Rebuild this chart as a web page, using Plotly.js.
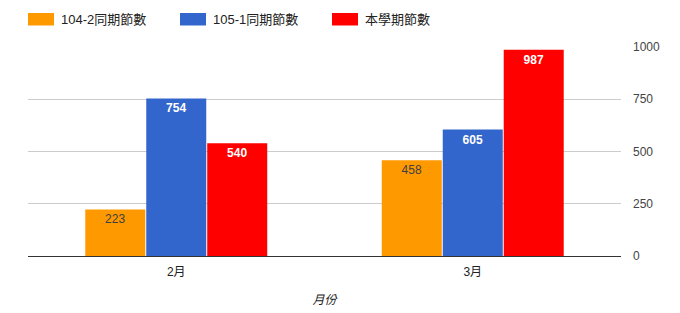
<!DOCTYPE html>
<html>
<head>
<meta charset="utf-8">
<script src="https://cdn.plot.ly/plotly-3.0.1.min.js"></script>
<style>html,body{margin:0;padding:0;background:#fff;}#chart{width:680px;height:313px;}</style>
</head>
<body>
<div id="chart"></div>
<script>
var categories = ['2月', '3月'];
var seriesNames = ['104-2同期節數', '105-1同期節數', '本學期節數'];
var values1042 = [223, 458];
var values1051 = [754, 605];
var valuesNow = [540, 987];
var yTicks = [0, 250, 500, 750, 1000];
var xAxisTitle = '月份';

var FONT = '"Liberation Sans", Arial, "Noto Sans CJK TC", sans-serif';
var colors = ['#ff9900', '#3366cc', '#ff0000'];
var seriesValues = [values1042, values1051, valuesNow];
var textColors = ['#404040', '#ffffff', '#ffffff'];
var textWeights = ['normal', 'bold', 'bold'];

var traces = seriesValues.map(function (vals, i) {
  return {
    type: 'bar',
    name: seriesNames[i],
    x: categories,
    y: vals,
    marker: {color: colors[i]},
    text: vals.map(String),
    textposition: 'inside',
    insidetextanchor: 'end',
    constraintext: 'none',
    textangle: 0,
    textfont: {family: FONT, size: 12, color: textColors[i], weight: textWeights[i]},
    hoverinfo: 'none',
    showlegend: false
  };
});

// Plot-area geometry (pixels)
var W = 680, H = 313, L = 28, R = 59, T = 47, B = 57;
var pw = W - L - R, ph = H - T - B;
function px(x) { return (x - L) / pw; }
function py(y) { return (H - B - y) / ph; }

var shapes = [], annotations = [];
var legendX = [28, 180, 332];
seriesNames.forEach(function (n, i) {
  var x0 = legendX[i];
  shapes.push({type: 'rect', xref: 'paper', yref: 'paper',
    x0: px(x0), x1: px(x0 + 26), y0: py(25.5), y1: py(13),
    fillcolor: colors[i], line: {width: 0}});
  annotations.push({xref: 'paper', yref: 'paper', x: px(x0 + 31), y: py(19.5),
    xanchor: 'left', yanchor: 'middle', showarrow: false, text: n,
    font: {family: FONT, size: 13, color: '#222222'}});
});

var layout = {
  width: W, height: H,
  margin: {l: L, r: R, t: T, b: B, pad: 0},
  paper_bgcolor: '#ffffff', plot_bgcolor: '#ffffff',
  font: {family: FONT, size: 12, color: '#222222'},
  barmode: 'group',
  bargap: 0.383,
  bargroupgap: 0.016,
  showlegend: false,
  xaxis: {
    type: 'category',
    showgrid: false,
    showline: true, linecolor: '#333333', linewidth: 1,
    ticks: '', zeroline: false,
    ticklabelstandoff: 5,
    tickfont: {family: FONT, size: 12, color: '#222222'},
    title: {text: xAxisTitle, standoff: 17, font: {family: FONT, size: 12, color: '#222222', style: 'italic'}}
  },
  yaxis: {
    side: 'right',
    range: [0, 1000],
    tickvals: yTicks,
    ticktext: yTicks.map(String),
    showgrid: true, gridcolor: '#cccccc', gridwidth: 1,
    zeroline: false, showline: false, ticks: '',
    ticklabelstandoff: 11,
    tickfont: {family: FONT, size: 12, color: '#444444'},
    fixedrange: true
  },
  shapes: shapes,
  annotations: annotations
};

Plotly.newPlot('chart', traces, layout, {staticPlot: true, displayModeBar: false});
</script>
</body>
</html>
